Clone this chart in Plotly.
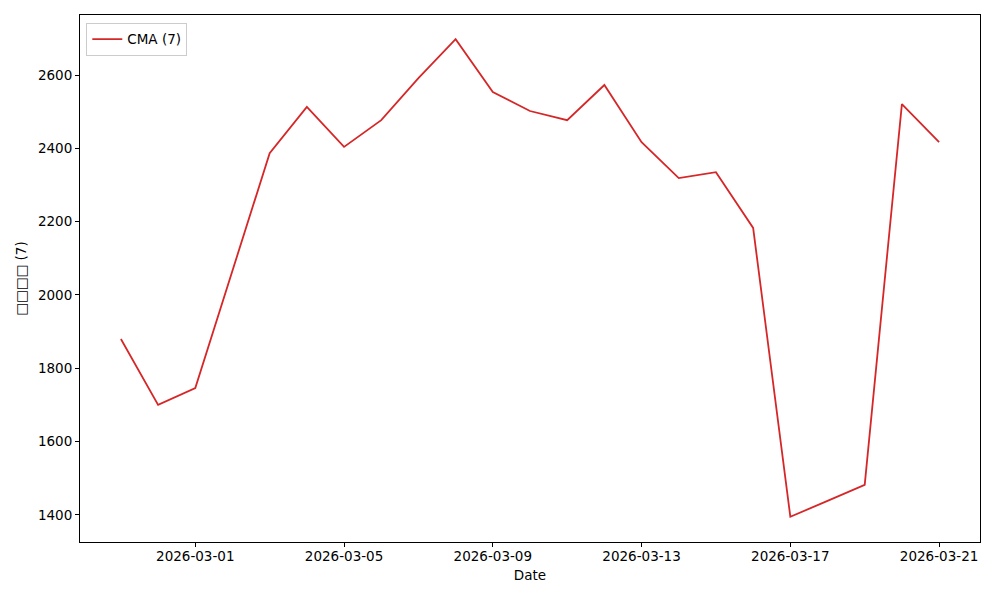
import plotly.graph_objects as go
import pandas as pd

dates = pd.date_range("2026-02-27", "2026-03-21", freq="D")
cma_values = [1880, 1700, 1746, 2065, 2387, 2513, 2404, 2477, 2592, 2698,
              2554, 2502, 2477, 2573, 2417, 2319, 2335, 2183, 1395, 1438,
              1482, 2521, 2417]
series_name = "CMA (7)"
x_title = "Date"
y_title = "□□□□ (7)"
y_ticks = [1400, 1600, 1800, 2000, 2200, 2400, 2600]
x_ticks = pd.date_range("2026-03-01", "2026-03-21", freq="4D")

pad = pd.Timedelta(days=1.1)
fig = go.Figure()
fig.add_trace(go.Scatter(x=dates, y=cma_values, mode="lines", name=series_name,
                         line=dict(color="#d62728", width=1.8)))

axis_common = dict(showline=True, linecolor="black", linewidth=1, mirror=True,
                   ticks="outside", ticklen=4, tickcolor="black", showgrid=False,
                   zeroline=False, automargin=False,
                   tickfont=dict(size=13.5, color="black"))
fig.update_xaxes(range=[dates[0] - pad, dates[-1] + pad], tickvals=list(x_ticks),
                 ticktext=[d.strftime("%Y-%m-%d") for d in x_ticks],
                 ticklabelstandoff=-2,
                 title=dict(text=x_title, font=dict(size=13.5, color="black"), standoff=7),
                 **axis_common)
fig.update_yaxes(range=[1326, 2764], tickvals=y_ticks,
                 title=dict(text=y_title, font=dict(size=13.5, color="black"), standoff=8),
                 **axis_common)
fig.update_layout(width=984, height=584, plot_bgcolor="white", paper_bgcolor="white",
                  margin=dict(l=72, r=12, t=7, b=50, autoexpand=False),
                  font=dict(family="DejaVu Sans", size=13.5, color="black"),
                  showlegend=True,
                  legend=dict(x=0.007, y=0.985, xanchor="left", yanchor="top",
                              bgcolor="white", bordercolor="#cccccc", borderwidth=1,
                              font=dict(size=13.5)))
fig.write_html("out.html")
